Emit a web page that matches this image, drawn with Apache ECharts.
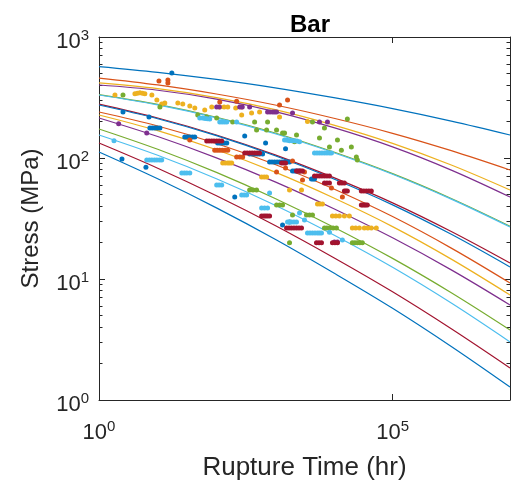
<!DOCTYPE html>
<html><head><meta charset="utf-8">
<script src="https://cdn.jsdelivr.net/npm/echarts@6/dist/echarts.min.js"></script>
<style>html,body{margin:0;padding:0;background:#fff}#c{width:511px;height:485px}</style>
</head><body><div id="c"></div><script>
// ---- data (time in hours, stress in MPa) ----
const sampleTimes = [1, 10, 100, 1e3, 1e4, 1e5, 1e6, 1e7];
const fit1  = [570, 511, 446, 380, 315, 256, 202, 155];
const fit2  = [458, 402, 338, 274, 213, 160, 115, 79.6];
const fit3  = [417, 374, 316, 251, 187, 132, 87.5, 54.4];
const fit4  = [401, 363, 307, 242, 178, 123.5, 79.4, 47.6];
const fit5  = [334, 277, 217, 161, 112, 74.3, 46.3, 27.3];
const fit6  = [331.6, 274.5, 214.7, 158.6, 110.6, 73.4, 45.7, 26.9];
const fit7  = [279, 214, 155, 106.2, 68.8, 42.6, 24.7, 13.56];
const fit8  = [274, 211, 152.9, 104.3, 67.1, 41.0, 23.4, 12.57];
const fit9  = [240, 183.9, 131.8, 88.4, 55.4, 32.8, 18.0, 9.27];
const fit10 = [226.7, 168.2, 117.0, 76.4, 46.7, 27.1, 14.6, 7.38];
const fit11 = [214.1, 150.4, 100.3, 63.5, 38.1, 21.9, 11.9, 6.10];
const fit12 = [173.7, 118.0, 76.0, 46.3, 26.8, 14.8, 7.70, 3.79];
const fit13 = [155.0, 105.3, 67.4, 40.7, 23.1, 12.5, 6.33, 3.02];
const fit14 = [133.0, 82.4, 48.8, 27.7, 15.0, 7.84, 3.88, 1.84];
const fit15 = [112.1, 67.3, 38.7, 21.3, 11.2, 5.73, 2.77, 1.28];
const fits = [fit1, fit2, fit3, fit4, fit5, fit6, fit7, fit8, fit9, fit10, fit11, fit12, fit13, fit14, fit15];
const fitColors = ['#0072BD','#D95319','#EDB120','#7E2F8E','#77AC30','#4DBEEE','#A2142F',
                   '#0072BD','#D95319','#EDB120','#7E2F8E','#77AC30','#4DBEEE','#A2142F','#0072BD'];

const scatterBlue = [
 [17.4,504],[2.56,240],[7.1,218],[2.46,98],[6.3,84],
 [7.35,177],[8.1,177],[8.94,177],[9.9,177],[10.9,177],
 [28.9,149],[32,149],[35.2,149],[39,149],[42.8,149],
 [105,133],[114,133],[123,133],[136,133],[150,133],
 [368,108],[405,108],[447,108],[493,108],[543,108],[611,108],
 [804,92.6],[884,92.6],[977,92.6],[1080,92.6],[1189,92.6],[1310,92.6],[1446,92.6],[1600,92.6],[1758,92.6],
 [303,152],[687,133],[1504,119],[205,47.6],[1337,27.9],
 [1977,78],[2140,78],[2312,78],[2600,78],
 [4159,67],[4420,67],[4677,67],[1758,29.6]
];
const scatterRed = [
 [68.4,138],[75,138],[83,138],[91,138],[101,138],[111,138],[123,138],
 [303,110],[333,110],[368,110],[405,110],[447,110],[493,110],[543,110],
 [1285,90.9],[1390,90.9],[1504,90.9],
 [2312,78],[2450,78],[2600,78],[2750,78],[2924,78],
 [4677,71],[5160,71],[5689,71],[6270,71],[6918,71],[7630,71],[8414,71],
 [6918,62],[7630,62],[8414,62],
 [12420,62],[13700,62],[15110,62],
 [15110,53.4],[16000,53.4],[16990,53.4],
 [29380,53.4],[32400,53.4],[35730,53.4],[39400,53.4],[43450,53.4],
 [29380,40.9],[31100,40.9],[33040,40.9],[35000,40.9],[37150,40.9],
 [588,33.2],[640,33.2],[687,33.2],[740,33.2],[804,33.2],
 [1564,26.4],[1720,26.4],[1890,26.4],[2090,26.4],[2312,26.4],[2550,26.4],[2812,26.4],
 [5058,19.9],[5580,19.9],[6152,19.9],
 [9462,19.9],[10440,19.9],[11510,19.9]
];
const scatterOrange = [
 [10.5,433],[14.9,442],[14.9,417],
 [114,290],[221,295],[269,264],[1189,274],[1626,301],
 [35.2,141],[93.5,116],[103,116],[114,116],[126,116],[140,116],[156,116],[221,102],[250,102],[280,102],
 [1057,76.6],[1504,82.7],[1977,94.4],[3162,76.6],[2924,65.8],[9100,56.5],[13970,47.6]
];
const scatterYellow = [
 [1.87,332],[4.09,340],[4.5,343],[4.97,346],[5.5,343],[6.04,340],[7.95,332],[9.67,301],[11.7,280],[13.2,285],
 [22.0,285],[26.7,280],[35.2,269],[42.8,259],[63.2,249],[83.2,264],[114,264],[135,264],[156,264],[213,259],
 [269,227],[397,236],[543,240],[1189,218],[3556,200],
 [128,90.9],[141,90.9],[156,90.9],[168,90.9],[182,90.9],
 [588,69.7],[650,69.7],[715,69.7],
 [1758,54.4],[2812,54.4],
 [5260,41.7],[5800,41.7],[6397,41.7],
 [9462,33.2],[10800,33.2],[12420,33.2],[15110,33.2],[18370,33.2],
 [20660,26.4],[23500,26.4],[27170,26.4],[33040,26.4],[37900,26.4],[43450,26.4],[52840,26.4]
];
const scatterPurple = [
 [2.16,192],[6.5,161],
 [101,264],[112,264],[249,264],[275,264],[368,264],
 [743,240],[820,240],[904,240],[980,240],[1057,240],
 [1977,236],[5689,198],[7780,198],
 [10230,20.2],[11510,20.2]
];
const scatterGreen = [
 [2.56,332],[10.9,264],[48.1,227],[68.4,218],[101,214],[189,198],[447,198],[483,170],[743,198],[715,170],
 [1057,170],[1337,161],[1446,161],[2312,155],[2138,136],[4325,198],[5689,146],[6918,177],[8414,123],
 [11510,141],[13430,116],[16990,210],[19870,123],[24160,102],[25120,96.2],
 [368,54.4],[420,54.4],[483,54.4],
 [1057,40.9],[1190,40.9],[1337,40.9],
 [1977,33.8],[3420,33.8],[3850,33.8],[4325,33.8],
 [6918,26.4],[7600,26.4],[8414,26.4],[9700,26.4],[11070,26.4],
 [1758,19.9],
 [20660,19.9],[22800,19.9],[25120,19.9],[27700,19.9],[30550,19.9]
];
const scatterCyan = [
 [1.8,139],
 [52,214],[58,214],[64,212],[70,211],[76.9,210],[114,198],[125,198],[137,198],[150,198],[221,198],
 [1446,141],[1600,140],[1758,139],[1940,139],[2138,139],[2350,138],[2600,136],
 [4677,110],[5160,110],[5689,110],[6270,110],[6918,110],[7630,110],[8414,110],[9100,110],
 [6.5,96.2],[7.2,96.2],[7.95,96.2],[8.8,96.2],[9.67,96.2],[10.7,96.2],[11.7,96.2],
 [25.7,75.2],[28.4,75.2],[31.3,75.2],[35.2,75.2],
 [101,59.8],[111,59.8],[123,59.8],
 [269,49.5],[297,49.5],[327,49.5],
 [588,38.6],[660,38.6],[743,38.6],
 [804,51.4],
 [1626,29.6],[1750,29.6],[1890,29.6],[2090,29.6],[2312,29.6],
 [2600,35.1],[3162,30.7],
 [3556,24.0],[3920,24.0],[4325,24.0],[4770,24.0],[5260,24.0],[5690,24.0],[6152,24.0],
 [8414,24.4],[13970,21.0]
];
const scatterGroups = [
 {data: scatterBlue, color: '#0072BD'},
 {data: scatterOrange, color: '#D95319'},
 {data: scatterYellow, color: '#EDB120'},
 {data: scatterPurple, color: '#7E2F8E'},
 {data: scatterGreen, color: '#77AC30'},
 {data: scatterCyan, color: '#4DBEEE'},
 {data: scatterRed, color: '#A2142F'}
];
const xTickValues = [1, 1e5];
const yTickValues = [1, 10, 100, 1000];
const yMinorTickValues = [2,3,4,5,6,7,8,9,20,30,40,50,60,70,80,90,200,300,400,500,600,700,800,900];
const titleText = 'Bar';
const xName = 'Rupture Time (hr)';
const yName = 'Stress (MPa)';

// ---- chart ----
const FONT = '"Liberation Sans", Arial, Helvetica, sans-serif';
const AX = '#262626';
const powLabel = v => '{b|10}{s|' + Math.round(Math.log10(v)) + '}';
const rich = {
  b: {fontSize: 22, lineHeight: 22, padding: [6, 0, 0, 0], fontFamily: FONT, color: AX},
  s: {fontSize: 15, lineHeight: 15, verticalAlign: 'top', fontFamily: FONT, color: AX}
};
const lineStyle = {color: AX, width: 1};
const series = [];
fits.forEach((f, i) => {
  series.push({
    type: 'line', smooth: 0.35, showSymbol: false, silent: true, z: 2,
    data: sampleTimes.map((t, k) => [t, f[k]]),
    lineStyle: {color: fitColors[i], width: 1.2}
  });
});
scatterGroups.forEach(g => {
  series.push({
    type: 'scatter', symbolSize: 5, z: 3, silent: true,
    data: g.data, itemStyle: {color: g.color, opacity: 1}
  });
});
const chart = echarts.init(document.getElementById('c'), null, {renderer: 'canvas'});
chart.setOption({
  animation: false,
  backgroundColor: '#fff',
  title: {text: titleText, left: 305, top: 8, textAlign: 'center',
    textStyle: {fontFamily: FONT, fontSize: 24, fontWeight: 'bold', color: '#000'}},
  grid: {left: 99, right: 1, top: 37, bottom: 85, containLabel: false, outerBoundsMode: 'none'},
  xAxis: [
    {type: 'log', logBase: 10, min: 1, max: 1e7, position: 'bottom',
     axisLine: {show: true, lineStyle},
     axisTick: {show: true, inside: true, length: 6, customValues: xTickValues, lineStyle},
     axisLabel: {customValues: xTickValues, formatter: powLabel, rich, margin: 19},
     splitLine: {show: false},
     name: xName, nameLocation: 'middle', nameGap: 55,
     nameTextStyle: {fontFamily: FONT, fontSize: 26, color: AX}},
    {type: 'log', logBase: 10, min: 1, max: 1e7, position: 'top',
     axisLine: {show: true, lineStyle},
     axisTick: {show: true, inside: true, length: 6, customValues: xTickValues, lineStyle},
     axisLabel: {show: false}, splitLine: {show: false}}
  ],
  yAxis: [
    {type: 'log', logBase: 10, min: 1, max: 1000, position: 'left',
     axisLine: {show: true, lineStyle},
     axisTick: {show: true, inside: true, length: 6, customValues: yTickValues, lineStyle},
     axisLabel: {customValues: yTickValues, formatter: powLabel, rich, margin: 10, padding: [4, 0, 0, 0]},
     splitLine: {show: false},
     name: yName, nameLocation: 'middle', nameGap: 56,
     nameTextStyle: {fontFamily: FONT, fontSize: 24, color: AX}},
    {type: 'log', logBase: 10, min: 1, max: 1000, position: 'left',
     axisLine: {show: false},
     axisTick: {show: true, inside: true, length: 3.5, customValues: yMinorTickValues, lineStyle},
     axisLabel: {show: false}, splitLine: {show: false}},
    {type: 'log', logBase: 10, min: 1, max: 1000, position: 'right',
     axisLine: {show: true, lineStyle},
     axisTick: {show: true, inside: true, length: 6, customValues: yTickValues, lineStyle},
     axisLabel: {show: false}, splitLine: {show: false}},
    {type: 'log', logBase: 10, min: 1, max: 1000, position: 'right',
     axisLine: {show: false},
     axisTick: {show: true, inside: true, length: 3.5, customValues: yMinorTickValues, lineStyle},
     axisLabel: {show: false}, splitLine: {show: false}}
  ],
  series
});
</script></body></html>
